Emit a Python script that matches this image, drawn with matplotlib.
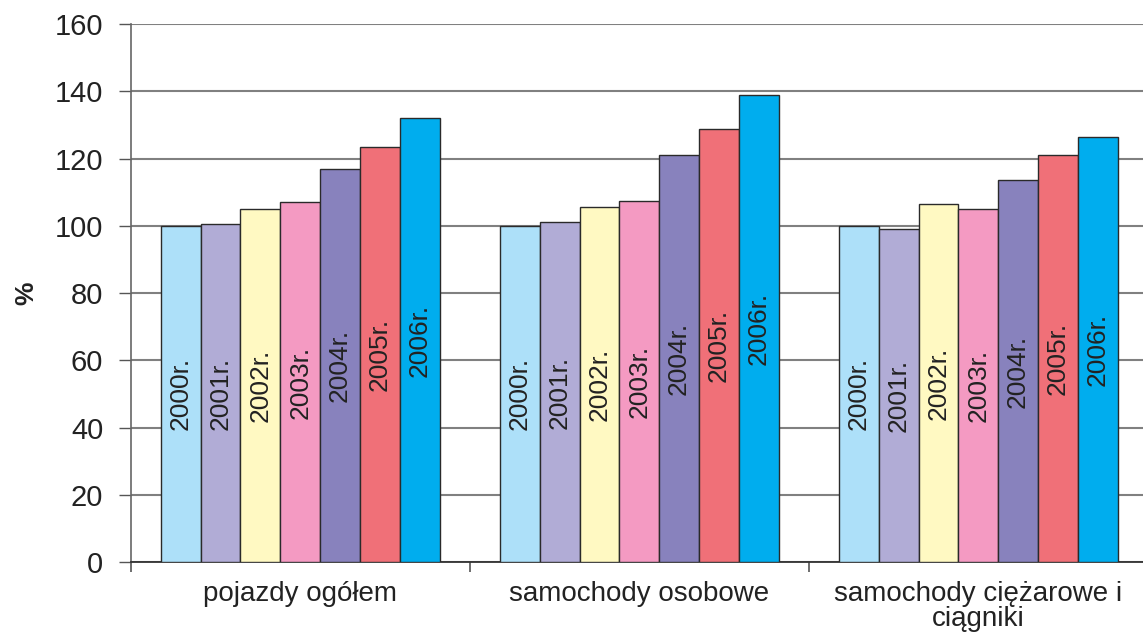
import matplotlib.pyplot as plt
import numpy as np
from matplotlib import font_manager

# Vehicle index values, 2000 = 100
categories = ["pojazdy ogółem", "samochody osobowe", "samochody ciężarowe i\nciągniki"]
years = ["2000r.", "2001r.", "2002r.", "2003r.", "2004r.", "2005r.", "2006r."]
values = {
    "2000r.": [100.0, 100.0, 100.0],
    "2001r.": [100.5, 101.0, 99.0],
    "2002r.": [105.0, 105.5, 106.5],
    "2003r.": [107.0, 107.5, 105.0],
    "2004r.": [117.0, 121.0, 113.5],
    "2005r.": [123.5, 128.7, 121.0],
    "2006r.": [132.0, 139.0, 126.5],
}
colors = ["#ADE0F9", "#B1ACD6", "#FFF9C2", "#F49AC2", "#8882BD", "#F07078", "#00ADEE"]
yticks = [0, 20, 40, 60, 80, 100, 120, 140, 160]

installed = {f.name for f in font_manager.fontManager.ttflist}
base_font = "Liberation Sans"
narrow_font = "Liberation Sans Narrow" if "Liberation Sans Narrow" in installed else base_font
label_size = 21 if narrow_font != base_font else 19

plt.rcParams["font.family"] = [base_font, "DejaVu Sans"]

fig = plt.figure(figsize=(11.43, 6.37), dpi=100)
ax = fig.add_axes([0.1146, 0.1177, 0.8898, 0.8446])

offset = 0.088
width = 0.1175
x = np.arange(len(categories))

for j, (year, color) in enumerate(zip(years, colors)):
    xs = x + offset + j * width
    bars = ax.bar(xs, values[year], width=width, align="edge", color=color,
                  edgecolor="#2a2a2a", linewidth=1.0, zorder=3)
    for bar, v in zip(bars, values[year]):
        ax.text(bar.get_x() + width / 2, v / 2, year, rotation=90,
                ha="center", va="center", fontsize=label_size,
                family=[narrow_font, "DejaVu Sans"], color="#222222", zorder=4)

ax.set_xlim(0, len(categories))
ax.set_ylim(0, 160)
ax.set_yticks(yticks)
ax.set_yticklabels([str(t) for t in yticks], fontsize=21, color="#222222")
ax.yaxis.grid(True, color="#808080", linewidth=1.5, zorder=0)
ax.set_axisbelow(True)

# boundary ticks between groups, labels at the group centres
ax.set_xticks(np.arange(len(categories) + 1))
ax.set_xticklabels([])
ax.set_xticks(x + 0.5, minor=True)
ax.set_xticklabels(categories, minor=True, fontsize=20, color="#222222",
                   linespacing=0.92)
ax.tick_params(axis="x", which="minor", length=0, pad=14)
ax.tick_params(axis="x", which="major", length=7, width=1.2, color="#555555")
ax.tick_params(axis="y", length=9, width=1.0, color="#555555", pad=11)

for side in ["top", "right"]:
    ax.spines[side].set_visible(False)
ax.spines["left"].set_color("#666666")
ax.spines["left"].set_linewidth(1.2)
ax.spines["bottom"].set_color("#333333")
ax.spines["bottom"].set_linewidth(1.3)

ax.set_ylabel("%", fontsize=19, fontweight="bold", color="#222222", labelpad=12)

fig.savefig("out.png", dpi=100)
